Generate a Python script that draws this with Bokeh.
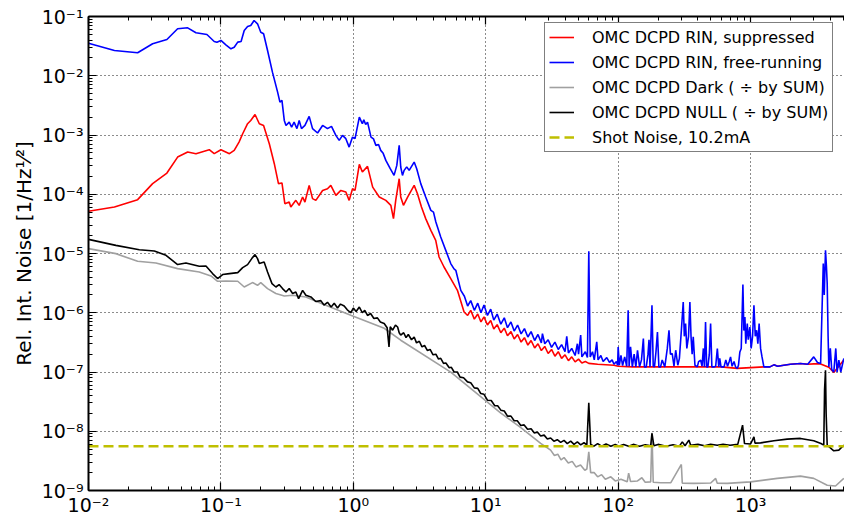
from bokeh.plotting import figure
from bokeh.models import LogAxis, LogTicker, CustomJSTickFormatter, Legend, LegendItem
from bokeh.embed import file_html
from bokeh.resources import INLINE

# ---------------- data (frequency [Hz], relative intensity noise [1/Hz^1/2]) ----------------
BLUE = [
    (0.01, 3.55e-2), (0.0157, 2.67e-2), (0.0235, 2.44e-2), (0.0305, 3.47e-2), (0.0391, 4.09e-2),
    (0.0471, 6.21e-2), (0.0561, 6.44e-2), (0.0648, 5.31e-2), (0.0784, 4.97e-2), (0.0890, 3.79e-2),
    (0.0933, 3.69e-2), (0.100, 3.94e-2), (0.109, 3.33e-2), (0.119, 2.85e-2), (0.126, 3.03e-2),
    (0.134, 3.69e-2), (0.142, 3.79e-2), (0.150, 5.81e-2), (0.159, 6.78e-2), (0.168, 7.05e-2),
    (0.178, 8.57e-2), (0.189, 7.53e-2), (0.200, 5.43e-2), (0.210, 5.11e-2), (0.225, 2.67e-2),
    (0.245, 1.15e-2), (0.268, 5.29e-3), (0.279, 3.59e-3), (0.289, 3.83e-3), (0.301, 1.76e-3),
    (0.310, 1.45e-3), (0.328, 1.65e-3), (0.342, 1.36e-3), (0.357, 1.65e-3), (0.375, 1.28e-3),
    (0.390, 1.76e-3), (0.406, 1.28e-3), (0.431, 1.45e-3), (0.464, 2.06e-3), (0.492, 1.28e-3),
    (0.537, 1.08e-3), (0.586, 1.45e-3), (0.638, 1.28e-3), (0.684, 1.40e-3), (0.738, 9.85e-4),
    (0.782, 8.11e-4), (0.829, 9.85e-4), (0.878, 8.67e-4), (0.930, 6.25e-4), (0.986, 9.22e-4),
    (1.03, 8.67e-4), (1.11, 2.00e-3), (1.17, 1.55e-3), (1.20, 1.80e-3), (1.24, 1.50e-3),
    (1.28, 1.65e-3), (1.36, 9.22e-4), (1.42, 8.6e-4), (1.48, 6.68e-4), (1.55, 6.9e-4),
    (1.61, 5.50e-4), (1.68, 4.9e-4), (1.76, 3.73e-4), (1.90, 2.70e-4), (2.03, 2.08e-4),
    (2.13, 3.07e-4), (2.22, 6.68e-4), (2.28, 2.88e-4), (2.35, 2.08e-4), (2.42, 2.53e-4),
    (2.53, 2.9e-4), (2.64, 2.53e-4), (2.88, 3.49e-4), (3.01, 2.70e-4), (3.23, 1.51e-4),
    (3.52, 8.98e-5), (3.85, 5.35e-5), (4.03, 5.0e-5), (4.20, 3.4e-5), (4.32, 2.80e-5),
    (4.57, 1.90e-5), (4.99, 1.13e-5), (5.44, 6.76e-6), (5.76, 5.5e-6), (5.94, 5.21e-6),
    (6.48, 2.39e-6), (6.9, 1.9e-6), (7.3, 1.3e-6), (7.7, 1.6e-6), (8.2, 1.1e-6),
    (8.7, 1.45e-6), (9.2, 1.0e-6), (9.7, 1.35e-6), (10.3, 9.0e-7), (10.9, 1.15e-6),
    (11.5, 7.5e-7), (12.2, 9.5e-7), (13.0, 6.4e-7), (13.8, 8.2e-7), (14.6, 5.6e-7),
    (15.5, 7.0e-7), (16.4, 4.9e-7), (17.4, 6.2e-7), (18.5, 4.4e-7), (19.6, 5.4e-7),
    (20.8, 3.9e-7), (22.0, 4.8e-7), (23.4, 3.4e-7), (24.8, 4.3e-7), (26.3, 3.1e-7),
    (26.8, 4.45e-7), (27.9, 3.0e-7), (29.6, 3.5e-7), (31.4, 2.6e-7), (33.3, 3.2e-7),
    (35.3, 2.4e-7), (37.4, 2.9e-7), (39.7, 2.2e-7), (40.9, 4.0e-7), (42.1, 2.1e-7),
    (44.6, 2.5e-7), (47.3, 1.9e-7), (49.2, 3.0e-7), (50.2, 2.0e-7), (52.1, 4.2e-7),
    (53.2, 1.8e-7), (56.5, 2.2e-7), (58.6, 1.75e-7), (60.0, 1.09e-5), (61.5, 1.8e-7),
    (64, 2.2e-7), (66, 1.6e-7), (68.9, 3.22e-7), (70.5, 1.6e-7), (74, 1.9e-7),
    (77, 1.5e-7), (82, 1.75e-7), (86, 1.45e-7), (90, 1.6e-7), (93, 1.35e-7),
    (97, 1.5e-7), (99, 1.3e-7), (100, 2.65e-7), (102, 1.3e-7), (105, 1.9e-7),
    (108, 1.28e-7), (112, 1.8e-7), (116, 1.25e-7), (119, 1.10e-6), (121, 1.25e-7),
    (124, 2.65e-7), (128, 1.22e-7), (132, 2.0e-7), (136, 1.22e-7), (140, 2.33e-7),
    (145, 1.22e-7), (150, 1.6e-7), (155, 3.67e-7), (158, 1.22e-7), (163, 1.22e-7),
    (168, 2.0e-7), (171, 3.5e-7), (174, 1.22e-7), (180, 1.34e-6), (184, 1.25e-7),
    (188, 1.22e-7), (193, 2.2e-7), (198, 4.74e-7), (203, 1.22e-7), (209, 1.22e-7),
    (215, 1.6e-7), (225, 1.22e-7), (235, 2.5e-7), (242, 5.07e-7), (248, 2.0e-7),
    (256, 2.05e-7), (264, 1.25e-7), (272, 2.33e-7), (282, 1.3e-7), (290, 1.7e-7),
    (300, 5.0e-7), (310, 1.52e-6), (316, 4.0e-7), (323, 6.58e-7), (330, 2.5e-7),
    (340, 4.0e-7), (348, 1.52e-6), (355, 4.0e-7), (362, 2.0e-7), (369, 3.91e-7),
    (380, 1.3e-7), (396, 1.22e-7), (405, 1.5e-7), (420, 1.58e-7), (430, 1.25e-7),
    (440, 2.5e-7), (448, 1.22e-7), (457, 7.00e-7), (466, 1.22e-7), (476, 1.22e-7),
    (488, 2.0e-7), (499, 6.58e-7), (510, 1.22e-7), (528, 1.22e-7), (545, 1.25e-7),
    (561, 2.49e-7), (575, 1.22e-7), (585, 1.7e-7), (598, 1.22e-7), (611, 1.22e-7),
    (630, 1.22e-7), (650, 1.6e-7), (670, 1.25e-7), (690, 1.5e-7), (706, 1.80e-7),
    (725, 1.25e-7), (750, 1.5e-7), (770, 1.22e-7), (794, 1.15e-7), (810, 1.3e-7),
    (830, 2.18e-7), (850, 2.5e-7), (875, 2.99e-6), (890, 5.0e-7), (906, 8.49e-7),
    (920, 3.0e-7), (944, 6.58e-7), (960, 3.5e-7), (988, 5.75e-7), (1010, 2.5e-7),
    (1035, 4.0e-7), (1060, 1.34e-6), (1085, 4.0e-7), (1110, 5.07e-7), (1135, 3.0e-7),
    (1160, 6.58e-7), (1190, 2.5e-7), (1220, 1.80e-7), (1260, 1.22e-7), (1400, 1.22e-7),
    (1500, 1.32e-7), (1600, 1.25e-7), (1780, 1.30e-7), (2000, 1.35e-7), (2380, 1.39e-7),
    (2700, 1.35e-7), (3000, 1.80e-7), (3200, 1.45e-7), (3380, 1.39e-7), (3450, 8.0e-7),
    (3540, 6.76e-6), (3600, 2.0e-6), (3680, 1.13e-5), (3740, 6.0e-6), (3790, 3.10e-6),
    (3850, 4.0e-7), (3900, 1.22e-7), (4000, 2.5e-7), (4100, 1.1e-7), (4250, 1.00e-7),
    (4400, 2.5e-7), (4500, 1.0e-7), (4640, 1.58e-7), (4800, 1.0e-7), (5060, 1.69e-7),
]

RED = [
    (0.01, 5.15e-5), (0.0157, 6.08e-5), (0.0235, 8.11e-5), (0.0305, 1.51e-4), (0.0391, 2.28e-4),
    (0.0471, 4.24e-4), (0.0561, 5.15e-4), (0.0648, 4.84e-4), (0.0816, 5.65e-4), (0.0890, 4.84e-4),
    (0.100, 5.65e-4), (0.116, 4.84e-4), (0.126, 5.50e-4), (0.137, 7.59e-4), (0.146, 1.05e-3),
    (0.159, 1.55e-3), (0.168, 1.76e-3), (0.181, 2.22e-3), (0.195, 1.55e-3), (0.210, 1.45e-3),
    (0.232, 7.13e-4), (0.253, 3.28e-4), (0.272, 1.51e-4), (0.289, 1.55e-4), (0.304, 6.93e-5),
    (0.328, 7.38e-5), (0.337, 6.08e-5), (0.368, 7.89e-5), (0.390, 6.50e-5), (0.414, 8.98e-5),
    (0.431, 7.38e-5), (0.464, 1.41e-4), (0.492, 8.43e-5), (0.521, 7.89e-5), (0.586, 1.16e-4),
    (0.638, 1.24e-4), (0.676, 1.41e-4), (0.738, 9.57e-5), (0.805, 1.16e-4), (0.878, 1.09e-4),
    (0.930, 7.89e-5), (0.986, 1.24e-4), (1.03, 1.16e-4), (1.11, 3.19e-4), (1.17, 2.37e-4),
    (1.28, 2.95e-4), (1.40, 1.32e-4), (1.57, 8.98e-5), (1.76, 7.89e-5), (1.92, 6.50e-5),
    (2.01, 3.88e-5), (2.09, 7.89e-5), (2.22, 1.83e-4), (2.28, 8.98e-5), (2.39, 6.50e-5),
    (2.57, 8.98e-5), (2.88, 1.41e-4), (3.05, 1.02e-4), (3.27, 6.08e-5), (3.52, 3.88e-5),
    (3.85, 2.46e-5), (4.19, 1.67e-5), (4.44, 8.73e-6), (4.84, 5.92e-6), (5.44, 3.78e-6),
    (6.11, 2.39e-6), (6.86, 1.03e-6), (7.3, 9.0e-7), (7.7, 1.1e-6), (8.2, 7.8e-7),
    (8.7, 9.5e-7), (9.2, 7.0e-7), (9.7, 8.5e-7), (10.3, 6.2e-7), (10.9, 7.4e-7),
    (11.5, 5.3e-7), (12.2, 6.3e-7), (13.0, 4.6e-7), (13.8, 5.5e-7), (14.6, 4.1e-7),
    (15.5, 4.8e-7), (16.4, 3.6e-7), (17.4, 4.3e-7), (18.5, 3.2e-7), (19.6, 3.8e-7),
    (20.8, 2.85e-7), (22.0, 3.4e-7), (23.4, 2.55e-7), (24.8, 3.0e-7), (26.3, 2.3e-7),
    (27.9, 2.7e-7), (29.6, 2.05e-7), (31.4, 2.4e-7), (33.3, 1.85e-7), (35.3, 2.2e-7),
    (37.4, 1.7e-7), (39.7, 1.95e-7), (42.1, 1.55e-7), (44.6, 1.8e-7), (47.3, 1.48e-7),
    (50.2, 1.65e-7), (53.2, 1.42e-7), (56.5, 1.5e-7), (60, 1.4e-7), (70, 1.35e-7),
    (93, 1.3e-7), (100, 1.25e-7), (128, 1.22e-7), (200, 1.22e-7), (400, 1.22e-7),
    (600, 1.22e-7), (794, 1.15e-7), (1260, 1.22e-7), (1400, 1.22e-7), (1500, 1.32e-7),
    (1600, 1.25e-7), (1780, 1.30e-7), (2000, 1.35e-7), (2380, 1.39e-7), (2700, 1.35e-7),
    (3000, 1.37e-7), (3380, 1.37e-7), (3900, 1.2e-7), (4250, 9.8e-8), (5060, 1.6e-7),
]

BLACK = [
    (0.01, 1.73e-5), (0.0161, 1.37e-5), (0.0242, 1.16e-5), (0.0314, 1.10e-5), (0.0385, 9.33e-6),
    (0.0471, 6.50e-6), (0.0544, 6.92e-6), (0.0686, 6.08e-6), (0.0771, 6.13e-6), (0.0865, 4.58e-6),
    (0.0944, 3.78e-6), (0.103, 4.41e-6), (0.116, 4.58e-6), (0.134, 4.76e-6), (0.146, 5.78e-6),
    (0.159, 6.50e-6), (0.171, 8.20e-6), (0.181, 9.57e-6), (0.189, 8.20e-6), (0.195, 6.76e-6),
    (0.212, 7.19e-6), (0.225, 4.88e-6), (0.243, 3.10e-6), (0.260, 2.72e-6), (0.275, 2.99e-6),
    (0.292, 2.56e-6), (0.310, 2.24e-6), (0.328, 2.56e-6), (0.348, 2.11e-6), (0.368, 2.24e-6),
    (0.386, 1.73e-6), (0.414, 2.39e-6), (0.438, 1.97e-6), (0.478, 1.85e-6), (0.52, 1.55e-6),
    (0.568, 1.60e-6), (0.60, 1.35e-6), (0.638, 1.50e-6), (0.68, 1.25e-6), (0.717, 1.45e-6),
    (0.76, 1.2e-6), (0.80, 1.4e-6), (0.853, 1.3e-6), (0.90, 1.12e-6), (0.957, 1.0e-6),
    (1.0, 1.2e-6), (1.05, 1.05e-6), (1.11, 1.25e-6), (1.17, 1.0e-6), (1.22, 1.1e-6),
    (1.28, 9.0e-7), (1.35, 9.7e-7), (1.43, 8.0e-7), (1.52, 8.2e-7), (1.60, 7.0e-7),
    (1.71, 6.6e-7), (1.80, 5.6e-7), (1.86, 2.65e-7), (1.90, 5.8e-7), (1.98, 5.07e-7),
    (2.08, 6.2e-7), (2.16, 5.75e-7), (2.22, 4.6e-7), (2.28, 4.18e-7), (2.4, 4.6e-7),
    (2.5, 3.8e-7), (2.6, 4.3e-7), (2.75, 3.5e-7), (2.88, 3.9e-7), (3.0, 3.1e-7),
    (3.15, 3.3e-7), (3.3, 2.65e-7), (3.45, 2.8e-7), (3.63, 2.3e-7), (3.8, 2.4e-7),
    (4.0, 1.95e-7), (4.2, 2.0e-7), (4.4, 1.65e-7), (4.57, 1.7e-7), (4.8, 1.4e-7),
    (5.0, 1.42e-7), (5.3, 1.18e-7), (5.5, 1.2e-7), (5.77, 1.0e-7), (6.1, 1.0e-7),
    (6.4, 8.2e-8), (6.8, 8.0e-8), (7.28, 6.81e-8), (7.7, 6.6e-8), (8.2, 5.4e-8),
    (8.7, 5.3e-8), (9.17, 4.34e-8), (9.7, 4.2e-8), (10.3, 3.34e-8), (11.0, 3.3e-8),
    (11.7, 2.7e-8), (12.3, 2.7e-8), (13.0, 2.27e-8), (13.8, 2.2e-8), (14.6, 1.8e-8),
    (15.5, 1.8e-8), (16.4, 1.5e-8), (17.3, 1.5e-8), (18.4, 1.25e-8), (19.5, 1.28e-8),
    (20.7, 1.08e-8), (22.0, 1.1e-8), (23.2, 9.4e-9), (24.6, 9.6e-9), (26.0, 8.3e-9),
    (27.6, 8.6e-9), (29.2, 7.4e-9), (30.9, 7.7e-9), (32.7, 6.8e-9), (34.7, 7.2e-9),
    (36.8, 6.5e-9), (39.0, 7.0e-9), (41.3, 6.2e-9), (43.8, 6.8e-9), (46.4, 6.0e-9),
    (49.2, 6.6e-9), (52.1, 5.9e-9), (55.2, 6.4e-9), (58.0, 5.9e-9), (60.0, 3.01e-8),
    (62.0, 6.0e-9), (65.7, 5.6e-9), (70, 6.2e-9), (75, 5.6e-9), (81, 6.1e-9),
    (88, 5.6e-9), (95, 6.0e-9), (101, 5.6e-9), (110, 6.0e-9), (120, 5.6e-9),
    (130, 6.0e-9), (145, 5.6e-9), (160, 5.9e-9), (176, 5.7e-9), (180, 9.18e-9),
    (186, 5.7e-9), (200, 6.0e-9), (230, 5.6e-9), (260, 5.9e-9), (290, 5.6e-9),
    (305, 6.62e-9), (320, 5.7e-9), (342, 7.08e-9), (353, 5.8e-9), (400, 6.0e-9),
    (450, 5.7e-9), (499, 6.05e-9), (560, 5.8e-9), (620, 6.0e-9), (700, 5.8e-9),
    (800, 6.0e-9), (870, 1.27e-8), (900, 6.2e-9), (1000, 6.1e-9), (1060, 8.05e-9),
    (1080, 6.3e-9), (1190, 6.37e-9), (1500, 6.9e-9), (1890, 7.36e-9), (2380, 7.57e-9),
    (3000, 6.89e-9), (3400, 6.2e-9), (3570, 5.83e-9), (3620, 5.0e-8), (3680, 1.07e-7),
    (3720, 2.0e-8), (3790, 5.83e-9), (4250, 4.68e-9), (4640, 4.80e-9), (5060, 5.83e-9),
]

GRAY = [
    (0.01, 1.21e-5), (0.0161, 9.95e-6), (0.0235, 7.38e-6), (0.0323, 6.92e-6), (0.0471, 5.56e-6),
    (0.0686, 4.88e-6), (0.0841, 4.18e-6), (0.0944, 3.40e-6), (0.109, 3.43e-6), (0.134, 3.40e-6),
    (0.150, 2.72e-6), (0.173, 3.23e-6), (0.189, 2.91e-6), (0.200, 3.23e-6), (0.225, 2.56e-6),
    (0.260, 2.11e-6), (0.301, 1.92e-6), (0.348, 1.97e-6), (0.438, 1.85e-6), (0.568, 1.45e-6),
    (0.957, 9.08e-7), (1.71, 5.48e-7), (2.28, 3.44e-7), (5.44, 9.93e-8), (13.0, 2.02e-8),
    (18.4, 1.15e-8), (26.0, 6.23e-9), (30.9, 4.8e-9), (33, 3.9e-9), (35, 4.1e-9),
    (37, 3.3e-9), (39, 3.6e-9), (42, 2.9e-9), (45, 3.1e-9), (48, 2.5e-9),
    (52, 2.7e-9), (56, 2.2e-9), (58, 2.3e-9), (60, 4.5e-9), (62, 2.0e-9),
    (66, 2.0e-9), (70, 1.7e-9), (75, 1.85e-9), (80, 1.55e-9), (88, 1.7e-9),
    (95, 1.45e-9), (105, 1.55e-9), (117, 1.40e-9), (120, 1.96e-9), (124, 1.42e-9),
    (140, 1.45e-9), (151, 1.64e-9), (160, 1.38e-9), (176, 1.40e-9), (180, 9.40e-9),
    (184, 1.38e-9), (209, 1.35e-9), (250, 1.36e-9), (300, 2.75e-9), (305, 1.33e-9),
    (373, 1.32e-9), (500, 1.34e-9), (545, 1.60e-9), (560, 1.33e-9), (667, 1.32e-9),
    (1000, 1.40e-9), (1590, 1.60e-9), (2380, 1.75e-9), (3000, 1.60e-9), (3790, 1.23e-9),
    (4380, 1.19e-9), (5060, 1.60e-9),
]

SHOT_FREQ = [0.01, 5120]
SHOT_LEVEL = [5.6e-9, 5.6e-9]

LABELS = [
    "OMC DCPD RIN, suppressed",
    "OMC DCPD RIN, free-running",
    "OMC DCPD Dark ( \u00f7 by SUM)",
    "OMC DCPD NULL ( \u00f7 by SUM)",
    "Shot Noise, 10.2mA",
]

FONT = "DejaVu Sans"

p = figure(width=844, height=521, x_axis_type="log", y_axis_type="log",
           x_range=(1e-2, 5120), y_range=(1e-9, 1e-1),
           output_backend="svg", toolbar_location=None,
           min_border_left=88, min_border_right=0, min_border_top=16, min_border_bottom=31)
p.outline_line_color = None
p.background_fill_color = "white"
p.border_fill_color = "white"

fmt_code = """
const e = Math.round(Math.log10(tick));
const sup = {'-':'\u207b','0':'\u2070','1':'\u00b9','2':'\u00b2','3':'\u00b3','4':'\u2074',
             '5':'\u2075','6':'\u2076','7':'\u2077','8':'\u2078','9':'\u2079'};
return '10' + String(e).split('').map(c => sup[c]).join('');
"""

for ax in (p.xaxis[0], p.yaxis[0]):
    ax.ticker.num_minor_ticks = 10
    ax.formatter = CustomJSTickFormatter(code=fmt_code)
    ax.major_tick_in = 8
    ax.major_tick_out = 0
    ax.minor_tick_in = 4
    ax.minor_tick_out = 0
    ax.axis_line_width = 2
    ax.axis_line_color = "black"
    ax.major_tick_line_width = 1.2
    ax.minor_tick_line_width = 1
    ax.major_label_text_font = FONT
    ax.major_label_text_font_size = "19px"
    ax.major_label_text_color = "black"

p.xaxis[0].major_label_standoff = 3
p.yaxis[0].major_label_standoff = 5
p.yaxis[0].axis_label = "Rel. Int. Noise [1/Hz\u00b9\u2044\u00b2]"
p.yaxis[0].axis_label_text_font = FONT
p.yaxis[0].axis_label_text_font_size = "20px"
p.yaxis[0].axis_label_text_font_style = "normal"
p.yaxis[0].axis_label_text_color = "black"
p.yaxis[0].axis_label_standoff = 3

top = LogAxis(ticker=LogTicker(num_minor_ticks=10),
              formatter=CustomJSTickFormatter(code="return ''"),
              major_tick_in=8, major_tick_out=0, minor_tick_in=4, minor_tick_out=0,
              major_label_text_font_size="0px", major_label_standoff=0,
              axis_line_width=2, axis_line_color="black", major_tick_line_width=1.2)
p.add_layout(top, "above")

for g in (p.xgrid[0], p.ygrid[0]):
    g.grid_line_color = "black"
    g.grid_line_dash = "1 3"
    g.grid_line_width = 1
    g.grid_line_alpha = 0.9


def cols(points):
    return [f for f, _ in points], [v for _, v in points]


rf, rv = cols(RED)
bf, bv = cols(BLUE)
gf, gv = cols(GRAY)
kf, kv = cols(BLACK)

r_red = p.line(rf, rv, line_color="#ff0000", line_width=1.6)
r_blue = p.line(bf, bv, line_color="#0000ff", line_width=1.6)
r_gray = p.line(gf, gv, line_color="#a0a0a0", line_width=1.6)
r_black = p.line(kf, kv, line_color="black", line_width=1.6)
r_shot = p.line(SHOT_FREQ, SHOT_LEVEL, line_color="#bfbf00", line_width=2.5, line_dash="10 5")

legend = Legend(items=[LegendItem(label=lab, renderers=[r]) for lab, r in
                       zip(LABELS, [r_red, r_blue, r_gray, r_black, r_shot])],
                location=(456, 338))
legend.label_text_font = FONT
legend.label_text_font_size = "16px"
legend.label_text_color = "black"
legend.glyph_width = 25
legend.glyph_height = 20
legend.label_height = 20
legend.label_standoff = 18
legend.spacing = 5
legend.padding = 4
legend.margin = 0
legend.border_line_color = "black"
legend.border_line_width = 1.5
legend.background_fill_color = "white"
legend.background_fill_alpha = 1
p.add_layout(legend)

open("out.html", "w").write(file_html(p, INLINE))
